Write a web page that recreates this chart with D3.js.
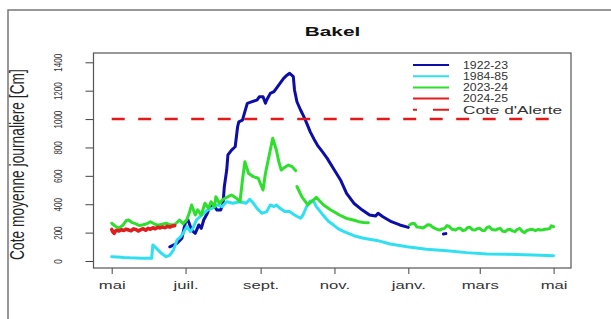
<!DOCTYPE html>
<html>
<head>
<meta charset="utf-8">
<script src="https://cdn.jsdelivr.net/npm/d3@7"></script>
<style>
  body { margin: 0; background: #fff; }
  svg text { font-family: "Liberation Sans", Arial, sans-serif; }
</style>
</head>
<body>
<script>
// water level at Bakel, days counted from 1 May, values in cm (null = gap)
const monthLabels = ['mai', 'juil.', 'sept.', 'nov.', 'janv.', 'mars', 'mai'];
const monthSteps = [0, 2, 4, 6, 8, 10, 12];
const yTicks = [0, 200, 400, 600, 800, 1000, 1200, 1400];
const alertLevel = 1000;

const seriesNames = ['1922-23', '1984-85', '2023-24', '2024-25'];
const seriesColors = ['#0d0da8', '#2fe0f2', '#2edf2e', '#e01e1e'];

const cote1922 = [
  [48, 100], [50, 108], [54, 125], [58, 160], [59, 200], [61, 277], [62, 282], [63, 289],
  [66, 218], [69, 195], [72, 254], [74, 230], [76, 289], [79, 336], [81, 383], [84, 395],
  [87, 359], [90, 359], [92, 407], [93, 523], [95, 641], [96, 747], [99, 782], [102, 805],
  [104, 946], [105, 981], [108, 993], [110, 1052], [112, 1111], [116, 1123], [120, 1134],
  [122, 1158], [125, 1158], [127, 1111], [128, 1134], [131, 1181], [134, 1193], [136, 1217],
  [139, 1252], [142, 1287], [145, 1311], [147, 1323], [150, 1299], [151, 1205], [153, 1122],
  [156, 1064], [158, 1029], [160, 993], [164, 910], [167, 860], [170, 815], [174, 770],
  [178, 723], [183, 653], [189, 571], [194, 477], [200, 407], [207, 359], [213, 324],
  [218, 317], [220, 336], [224, 312], [231, 277], [238, 254], [245, 237],
  [260, null], [274, 190], [276, 193]
];

const cote1984 = [
  [0, 30], [5, 28], [10, 25], [15, 23], [20, 22], [25, 20], [30, 19], [33, 19], [34, 113],
  [37, 89], [41, 54], [45, 30], [48, 42], [51, 77], [54, 148], [57, 171], [59, 195],
  [62, 242], [65, 207], [67, 230], [70, 289], [73, 312], [76, 336], [79, 359], [83, 371],
  [87, 395], [91, 383], [95, 418], [100, 407], [106, 418], [111, 407], [114, 435],
  [117, 407], [120, 371], [124, 336], [128, 348], [131, 395], [134, 383], [136, 395],
  [139, 371], [143, 348], [147, 348], [151, 324], [156, 301], [158, 324], [161, 383],
  [164, 423], [167, 418], [169, 383], [174, 330], [179, 280], [183, 255], [187, 228],
  [191, 210], [200, 178], [208, 160], [219, 145], [230, 120], [244, 100], [260, 82],
  [277, 73], [293, 59], [310, 49], [326, 47], [348, 42], [365, 37]
];

const cote2023 = [
  [0, 266], [3, 245], [6, 232], [9, 250], [12, 285], [14, 289], [17, 270], [20, 262],
  [23, 250], [26, 255], [29, 262], [32, 277], [35, 262], [38, 252], [41, 258], [45, 266],
  [48, 255], [52, 255], [56, 289], [59, 262], [62, 290], [64, 336], [66, 395], [69, 324],
  [71, 360], [74, 324], [77, 407], [80, 371], [82, 418], [85, 383], [86, 453], [89, 407],
  [92, 435], [96, 453], [99, 465], [103, 442], [106, 418], [108, 571], [110, 700],
  [113, 618], [117, 594], [121, 583], [125, 500], [127, 618], [131, 782], [133, 865],
  [136, 782], [138, 700], [140, 641], [143, 660], [146, 676], [149, 665], [152, 636],
  [152.5, null],
  [153, 525], [157, 453], [162, 395], [165, 418], [169, 449], [175, 395], [181, 359],
  [184, 345], [188, 324], [191, 312], [194, 300], [197, 294], [201, 285], [204, 277],
  [208, 272], [212, 270],
  [230, null],
  [246, 254], [248, 265], [250, 265], [252, 240], [255, 237], [257, 232], [259, 242],
  [261, 255], [263, 254], [265, 238], [267, 230], [269, 222], [271, 218], [273, 226],
  [275, 230], [277, 250], [279, 242], [281, 224], [284, 218], [286, 230], [288, 230],
  [290, 214], [292, 218], [294, 236], [296, 237], [298, 220], [300, 218], [302, 228],
  [304, 230], [306, 215], [308, 214], [310, 236], [312, 242], [314, 222], [317, 218],
  [319, 226], [321, 230], [323, 210], [325, 207], [327, 220], [329, 223], [331, 212],
  [333, 207], [335, 222], [337, 230], [339, 210], [341, 200], [343, 215], [346, 223],
  [348, 222], [350, 214], [352, 222], [354, 218], [356, 220], [358, 223], [360, 225],
  [362, 230], [363, 248], [365, 242]
];

const cote2024 = [
  [0, 222], [1, 205], [2, 195], [3, 210], [4, 216], [6, 212], [8, 220], [10, 215],
  [12, 224], [14, 218], [16, 213], [18, 226], [20, 222], [22, 211], [24, 221], [26, 227],
  [28, 217], [30, 230], [32, 224], [34, 234], [36, 227], [38, 238], [40, 233], [42, 240],
  [44, 235], [46, 244], [48, 239], [50, 246], [52, 249]
];

const allSeries = [cote1922, cote1984, cote2023, cote2024];
const seriesWidths = [3, 3, 3, 3.6];

const W = 611, H = 319;
const box = { left: 93.5, right: 571, top: 53, bottom: 268 };
const xStretch = 1.45; // the original picture is stretched sideways

const start = new Date(Date.UTC(2022, 4, 1));
const toDate = d => new Date(start.getTime() + d * 864e5);

const x = d3.scaleUtc().domain([start, d3.utcMonth.offset(start, 12)]).range([111.7, 553.6]);
const y = d3.scaleLinear().domain([0, 1400]).range([261, 62.3]);

const svg = d3.select('body').append('svg').attr('width', W).attr('height', H);

// outer frame
svg.append('path')
  .attr('d', `M8,${H} V10 H${W}`)
  .attr('fill', 'none')
  .attr('stroke', '#777')
  .attr('stroke-width', 1.5);

svg.append('text')
  .attr('transform', `translate(332.5,36) scale(1.6,1)`)
  .attr('text-anchor', 'middle')
  .attr('font-weight', 'bold')
  .attr('font-size', 13)
  .attr('fill', '#111')
  .text('Bakel');

const xAxis = svg.append('g')
  .attr('transform', `translate(0,${box.bottom})`)
  .call(d3.axisBottom(x)
    .tickValues(monthSteps.map(m => d3.utcMonth.offset(start, m)))
    .tickSize(6)
    .tickFormat((d, i) => monthLabels[i]));
xAxis.select('.domain').remove();
xAxis.attr('font-family', null).attr('font-size', 11.5).attr('color', '#444');
xAxis.selectAll('text')
  .attr('y', 0).attr('dy', 0)
  .attr('fill', '#333')
  .attr('transform', `translate(0,20.5) scale(${xStretch},1)`);

const yAxis = svg.append('g')
  .attr('transform', `translate(${box.left},0)`)
  .call(d3.axisLeft(y).tickValues(yTicks).tickSize(8).tickFormat(d3.format('d')));
yAxis.select('.domain').remove();
yAxis.attr('font-family', null).attr('font-size', 8).attr('color', '#444');
yAxis.selectAll('text')
  .attr('x', 0).attr('dy', 0)
  .attr('text-anchor', 'middle')
  .attr('fill', '#333')
  .attr('transform', `translate(-31.5,0) scale(${xStretch},1) rotate(-90)`);

svg.append('text')
  .attr('transform', `translate(24,164.5) scale(${xStretch},1) rotate(-90)`)
  .attr('text-anchor', 'middle')
  .attr('font-size', 13.8)
  .attr('fill', '#222')
  .text('Cote moyenne journaliere [Cm]');

svg.append('rect')
  .attr('x', box.left).attr('y', box.top)
  .attr('width', box.right - box.left).attr('height', box.bottom - box.top)
  .attr('fill', 'none')
  .attr('stroke', '#555')
  .attr('stroke-width', 1.2);

const line = d3.line()
  .defined(d => d[1] != null)
  .x(d => x(toDate(d[0])))
  .y(d => y(d[1]));

svg.append('g')
  .selectAll('path')
  .data(allSeries)
  .join('path')
  .attr('fill', 'none')
  .attr('stroke', (d, i) => seriesColors[i])
  .attr('stroke-width', (d, i) => seriesWidths[i])
  .attr('stroke-linejoin', 'round')
  .attr('stroke-linecap', 'round')
  .attr('d', line);

svg.append('line')
  .attr('x1', x(start)).attr('x2', x(d3.utcMonth.offset(start, 12)))
  .attr('y1', y(alertLevel)).attr('y2', y(alertLevel))
  .attr('stroke', '#e41a1a')
  .attr('stroke-width', 2.5)
  .attr('stroke-dasharray', '13,13.5');

// legend, no frame; text widths follow the stretched original
const legendRows = seriesNames.map((name, i) => ({ name, color: seriesColors[i], dash: null, len: 45 }))
  .concat([{ name: "Cote d'Alerte", color: '#e41a1a', dash: '4,16,16', len: 99 }]);

const legend = svg.append('g')
  .selectAll('g')
  .data(legendRows)
  .join('g')
  .attr('transform', (d, i) => `translate(413,${65 + i * 11.2})`);

legend.append('line')
  .attr('x1', 0).attr('x2', 36)
  .attr('stroke', d => d.color)
  .attr('stroke-width', 2)
  .attr('stroke-dasharray', d => d.dash);

legend.append('text')
  .attr('x', 50).attr('y', 3.8)
  .attr('font-size', 10.5)
  .attr('textLength', d => d.len)
  .attr('lengthAdjust', 'spacingAndGlyphs')
  .attr('fill', '#333')
  .text(d => d.name);
</script>
</body>
</html>
